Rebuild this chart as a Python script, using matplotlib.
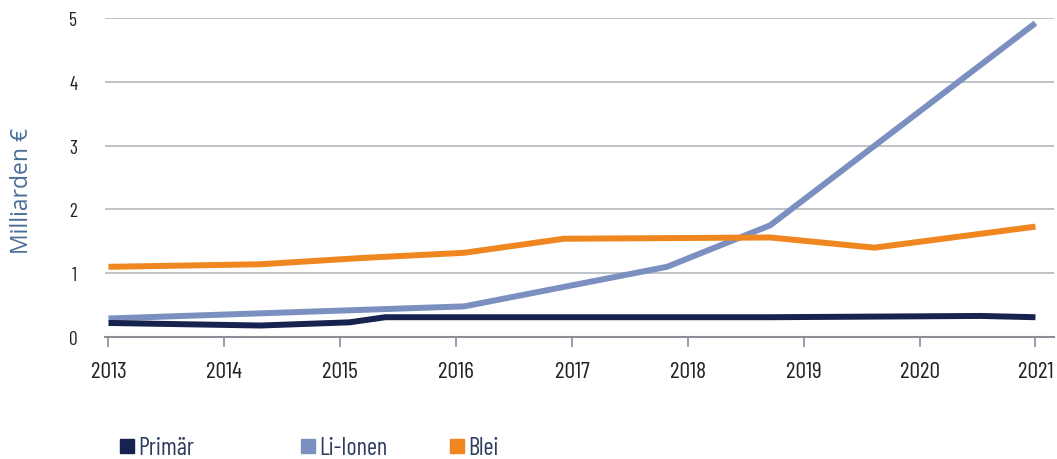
import matplotlib
matplotlib.use("Agg")
import matplotlib.pyplot as plt
from matplotlib.lines import Line2D
from matplotlib import font_manager

# ---- data (x positions in years, values in Mrd. EUR) ----
primaer_x = [2013.0, 2014.31, 2015.08, 2015.39, 2016.93, 2018.71, 2020.53, 2021.0]
primaer_y = [0.22, 0.18, 0.23, 0.31, 0.31, 0.31, 0.33, 0.31]

liion_x = [2013.0, 2016.07, 2017.82, 2018.71, 2021.0]
liion_y = [0.29, 0.48, 1.10, 1.75, 4.92]

blei_x = [2013.0, 2014.31, 2015.2, 2016.07, 2016.93, 2018.71, 2019.61, 2021.0]
blei_y = [1.10, 1.14, 1.24, 1.32, 1.54, 1.56, 1.40, 1.73]

years = [2013, 2014, 2015, 2016, 2017, 2018, 2019, 2020, 2021]
yticks = [0, 1, 2, 3, 4, 5]
labels = ["Primär", "Li-Ionen", "Blei"]
colors = ["#16234f", "#7b8fc0", "#f0861f"]

names = {f.name for f in font_manager.fontManager.ttflist}
narrow = "DejaVu Sans"
for cand in ["Barlow Condensed", "Barlow Semi Condensed", "Roboto Condensed", "Saira Condensed",
             "Encode Sans Condensed", "Pathway Gothic One", "Oswald", "Liberation Sans Narrow"]:
    if cand in names:
        narrow = cand
        break

fig = plt.figure(figsize=(10.57, 4.60), dpi=100)
ax = fig.add_axes([105 / 1057, 1 - 338 / 460, (1054 - 105) / 1057, (338 - 19) / 460])

ax.plot(primaer_x, primaer_y, color=colors[0], lw=4.3, solid_capstyle="butt", zorder=4)
ax.plot(liion_x, liion_y, color=colors[1], lw=4.3, solid_capstyle="butt", zorder=3)
ax.plot(blei_x, blei_y, color=colors[2], lw=4.3, solid_capstyle="butt", zorder=3)

ax.set_xlim(2012.97, 2021.16)
ax.set_ylim(0, 5)
ax.set_xticks(years)
ax.set_xticklabels([str(y) for y in years], fontfamily=narrow, fontsize=17, color="#222222")
ax.set_yticks(yticks)
ax.set_yticklabels([str(v) for v in yticks], fontfamily=narrow, fontsize=14, color="#222222")

for v in yticks[1:]:
    ax.axhline(v, color="#b9bec4", lw=1.3, zorder=1)

for s in ["top", "right", "left"]:
    ax.spines[s].set_visible(False)
ax.spines["bottom"].set_color("#8a8f96")
ax.spines["bottom"].set_linewidth(1.5)
ax.tick_params(axis="x", direction="out", length=7, width=1.2, color="#8a8f96", pad=10)
ax.tick_params(axis="y", length=0, pad=20)

fig.text(22 / 1057, 1 - 191 / 460, "Milliarden €", rotation=90, ha="center", va="center",
         fontsize=16.5, color="#4a6d98", fontfamily="Open Sans", fontweight="normal")

# legend entries placed at individual positions
pos = [113, 294, 443]
for lab, col, px in zip(labels, colors, pos):
    h = Line2D([], [], marker="s", color=col, linestyle="none", markersize=10)
    lg = fig.legend([h], [lab], loc="center left", bbox_to_anchor=(px / 1057 - 0.004, 1 - 449 / 460),
                    frameon=False, handlelength=0.5, handletextpad=0.2, borderpad=0,
                    prop={"family": narrow, "size": 17.5})
    for t in lg.get_texts():
        t.set_color("#2e3d5f")

fig.savefig("out.png", dpi=100, facecolor="white")
